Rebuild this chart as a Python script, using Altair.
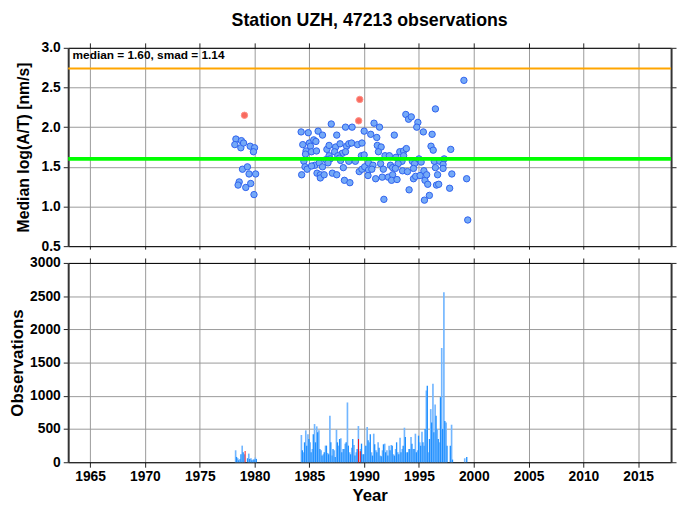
import altair as alt
import pandas as pd

title_text = "Station UZH, 47213 observations"
note_text = "median = 1.60, smad = 1.14"
median_val = 1.60
upper_val = 2.74

tick_years = [1965, 1970, 1975, 1980, 1985, 1990, 1995, 2000, 2005, 2010, 2015]
top_ticks = [0.5, 1.0, 1.5, 2.0, 2.5, 3.0]
bottom_ticks = [0, 500, 1000, 1500, 2000, 2500, 3000]

# blue station medians (year, value)
pt_year = [
    1978.3, 1978.2, 1978.75, 1978.8, 1979.0, 1979.6, 1980.0, 1979.9, 1978.9, 1979.35,
    1979.5, 1980.1, 1978.6, 1978.5, 1979.65, 1979.2, 1979.95,
    1984.25, 1984.9, 1985.8, 1986.2, 1987.0, 1987.5, 1988.3, 1988.9, 1990.0, 1984.4,
    1985.0, 1985.4, 1985.6, 1985.1, 1984.7, 1985.2, 1985.65, 1984.65, 1986.6, 1986.8,
    1987.4, 1987.8, 1988.4, 1988.6, 1988.85, 1989.4, 1989.8, 1987.3, 1988.0, 1988.3,
    1986.8, 1987.6, 1987.75, 1986.5, 1986.9, 1987.85, 1988.6, 1989.2, 1989.75, 1990.0,
    1984.5, 1984.6, 1984.8, 1985.5, 1985.9, 1986.2, 1986.7, 1985.2, 1984.3, 1985.7,
    1986.0, 1986.0, 1986.35, 1987.1, 1987.5, 1988.1, 1988.2, 1988.7, 1989.55, 1989.8,
    1990.05, 1990.4,
    1999.1, 1996.5, 1993.8, 1994.05, 1994.3, 1994.9, 1994.8, 1990.9, 1991.4, 1990.6,
    1991.15, 1992.75, 1995.4, 1996.2, 1991.2, 1991.55, 1991.3, 1993.25, 1993.6, 1993.85,
    1996.1, 1996.3, 1997.9, 1991.9, 1992.3, 1992.9, 1993.6, 1993.45, 1994.4, 1995.0,
    1995.2, 1994.6, 1996.4, 1996.9, 1997.3, 1997.2, 1990.4, 1990.8, 1991.5, 1992.4,
    1992.6, 1993.1, 1992.85, 1994.5, 1990.7, 1991.75, 1993.5, 1993.95, 1995.45, 1996.5,
    1997.2, 1998.0, 1996.7, 1990.35, 1991.65, 1991.05, 1992.2, 1992.6, 1992.5, 1993.0,
    1994.5, 1994.7, 1995.1, 1995.55, 1995.7, 1995.8, 1996.6, 1996.8, 1994.1, 1997.8,
    1999.35, 1991.8, 1995.5, 1995.95, 1999.45,
]
pt_val = [
    1.85, 1.78, 1.74, 1.83, 1.80, 1.76, 1.74, 1.69, 1.47, 1.50,
    1.41, 1.41, 1.31, 1.27, 1.29, 1.24, 1.15,
    1.94, 1.93, 1.95, 1.90, 2.04, 1.90, 2.00, 2.00, 1.95, 1.78,
    1.80, 1.84, 1.82, 1.76, 1.70, 1.69, 1.70, 1.66, 1.72, 1.77,
    1.75, 1.79, 1.76, 1.79, 1.80, 1.78, 1.80, 1.69, 1.67, 1.69,
    1.64, 1.64, 1.61, 1.59, 1.60, 1.58, 1.57, 1.57, 1.64, 1.65,
    1.57, 1.50, 1.47, 1.52, 1.55, 1.50, 1.55, 1.51, 1.40, 1.42,
    1.40, 1.36, 1.40, 1.42, 1.40, 1.49, 1.33, 1.30, 1.44, 1.47,
    1.50, 1.46,
    2.59, 2.23, 2.16, 2.10, 2.13, 2.06, 2.00, 2.05, 2.00, 1.91,
    1.87, 1.90, 1.94, 1.91, 1.77, 1.75, 1.69, 1.69, 1.70, 1.73,
    1.76, 1.71, 1.72, 1.64, 1.64, 1.62, 1.64, 1.57, 1.57, 1.60,
    1.56, 1.54, 1.57, 1.57, 1.60, 1.53, 1.55, 1.52, 1.54, 1.52,
    1.49, 1.54, 1.48, 1.48, 1.47, 1.47, 1.45, 1.44, 1.45, 1.49,
    1.48, 1.41, 1.40, 1.39, 1.37, 1.35, 1.37, 1.40, 1.33, 1.34,
    1.35, 1.38, 1.39, 1.33, 1.40, 1.28, 1.27, 1.28, 1.21, 1.23,
    1.35, 1.09, 1.08, 1.14, 0.83,
]
red_year = [1979.08, 1989.6, 1989.5]
red_val = [2.15, 2.35, 2.08]

# observation counts (bar start year, count)
light_year = [
    1978.2, 1978.4, 1978.6, 1978.8, 1979.0, 1979.4, 1979.6, 1979.8, 1980.0,
    1984.2, 1984.4, 1984.6, 1984.8, 1985.0, 1985.2, 1985.4, 1985.6, 1985.8, 1986.0,
    1986.2, 1986.4, 1986.6, 1986.8, 1987.0, 1987.2, 1987.4, 1987.6, 1987.8, 1988.0,
    1988.2, 1988.4, 1988.6, 1988.8, 1989.0, 1989.2, 1989.4, 1989.6, 1989.8, 1990.0,
    1990.2, 1990.4, 1990.6, 1990.8, 1991.0, 1991.2, 1991.4, 1991.6, 1991.8, 1992.0,
    1992.2, 1992.4, 1992.6, 1992.8, 1993.0, 1993.2, 1993.4, 1993.6, 1993.8, 1994.0,
    1994.2, 1994.4, 1994.6, 1994.8, 1995.0, 1995.2, 1995.4, 1995.6, 1995.8, 1996.0,
    1996.2, 1996.4, 1996.6, 1996.8, 1997.0, 1997.2, 1997.4, 1997.9, 1999.1,
]
light_count = [
    180, 60, 50, 250, 120, 130, 60, 40, 70,
    410, 150, 480, 420, 300, 200, 575, 540, 480, 180,
    120, 250, 140, 700, 100, 180, 490, 250, 360, 200,
    280, 900, 150, 220, 260, 150, 545, 200, 120, 250,
    530, 300, 150, 430, 180, 300, 100, 180, 280, 180,
    250, 260, 120, 200, 150, 370, 200, 520, 150, 200,
    380, 200, 430, 180, 300, 460, 250, 1080, 150, 800,
    1180, 870, 500, 300, 1720, 2560, 600, 565, 60,
]
dark_year = [
    1978.3, 1978.5, 1978.7, 1978.9, 1979.3, 1979.5, 1979.7, 1979.9, 1980.1,
    1984.3, 1984.5, 1984.7, 1984.9, 1985.1, 1985.3, 1985.5, 1985.7, 1985.9, 1986.1,
    1986.3, 1986.5, 1986.7, 1986.9, 1987.1, 1987.3, 1987.5, 1987.7, 1987.9, 1988.1,
    1988.3, 1988.5, 1988.7, 1988.9, 1989.1, 1989.3, 1989.7, 1989.9, 1990.1,
    1990.3, 1990.5, 1990.7, 1990.9, 1991.1, 1991.3, 1991.5, 1991.7, 1991.9, 1992.1,
    1992.3, 1992.5, 1992.7, 1992.9, 1993.1, 1993.3, 1993.5, 1993.7, 1993.9, 1994.1,
    1994.3, 1994.5, 1994.7, 1994.9, 1995.1, 1995.3, 1995.5, 1995.7, 1995.9, 1996.1,
    1996.3, 1996.5, 1996.7, 1996.9, 1997.1, 1997.3, 1997.5, 1997.8, 1998.0, 1999.3,
]
dark_count = [
    80, 30, 120, 150, 60, 50, 30, 40, 50,
    180, 300, 250, 350, 150, 420, 300, 450, 200, 100,
    150, 250, 120, 300, 200, 80, 300, 350, 150, 200,
    300, 250, 120, 350, 100, 200, 280, 120, 250,
    330, 420, 100, 270, 150, 220, 90, 270, 150, 100,
    180, 250, 100, 300, 120, 150, 250, 380, 150, 200,
    280, 200, 150, 400, 250, 300, 500, 1150, 350, 600,
    450, 700, 350, 980, 500, 620, 250, 250, 40, 80,
]
red_bar_year = [1979.1, 1989.45, 1989.6]
red_bar_count = [170, 350, 165]

FONT = "Liberation Sans"
XDOM = [1963, 2018]
W = 611

pts = pd.DataFrame({"year": pt_year, "val": pt_val})
reds = pd.DataFrame({"year": red_year, "val": red_val})
light = pd.DataFrame({"year": light_year, "count": light_count})
dark = pd.DataFrame({"year": dark_year, "count": dark_count})
redbars = pd.DataFrame({"year": red_bar_year, "count": red_bar_count})
one = pd.DataFrame({"k": [0]})

xscale = alt.Scale(domain=XDOM, nice=False, zero=False)
yscale_top = alt.Scale(domain=[0.5, 3.0], nice=False, zero=False)
yscale_bot = alt.Scale(domain=[0, 3000], nice=False)

fonts = dict(labelFont=FONT, labelFontSize=14, labelFontWeight="bold", labelColor="black",
             titleFont=FONT, titleFontWeight="bold", titleColor="black",
             labelPadding=3, gridColor="#999999", gridWidth=1, gridOpacity=1)
side = dict(domainColor="#333333", domainWidth=2, tickSize=5, tickColor="#222222", **fonts)
flat = dict(domainColor="black", domainWidth=1, tickColor="#222222", **fonts)

# ---------- top panel ----------
helper_top = alt.Chart(pts).mark_point(opacity=0).encode(
    x=alt.X("year:Q", scale=xscale,
            axis=alt.Axis(orient="top", values=tick_years, labels=False, grid=False, title=None,
                          tickSize=5, **flat)),
    y=alt.Y("val:Q", scale=yscale_top,
            axis=alt.Axis(orient="right", values=top_ticks, labels=False, grid=False, title=None, **side)),
)
orange = alt.Chart(one).mark_rule(color="#ffa500", strokeWidth=2).encode(
    y=alt.Y(datum=upper_val, axis=None, scale=yscale_top))
green = alt.Chart(one).mark_rule(color="#00ff00", strokeWidth=4).encode(
    y=alt.Y(datum=median_val, axis=None, scale=yscale_top))
blue_pts = alt.Chart(pts).mark_circle(size=42, color="#74a9f7", opacity=1,
                                      stroke="#2f62ee", strokeWidth=1).encode(
    x=alt.X("year:Q", scale=xscale,
            axis=alt.Axis(orient="bottom", values=tick_years, labels=False, grid=True, title=None,
                          tickSize=3, **flat)),
    y=alt.Y("val:Q", scale=yscale_top,
            axis=alt.Axis(orient="left", values=top_ticks, format=".1f", grid=True,
                          title="Median log(A/T) [nm/s]", titleFontSize=16, titlePadding=10, **side)),
)
red_pts = alt.Chart(reds).mark_circle(size=42, color="#f86a5e", opacity=1,
                                      stroke="#ff8f86", strokeWidth=1).encode(
    x=alt.X("year:Q", scale=xscale, axis=None),
    y=alt.Y("val:Q", scale=yscale_top, axis=None),
)
note = alt.Chart(one).mark_text(text=note_text, align="left", baseline="middle",
                                font=FONT, fontSize=12, fontWeight="bold", color="black").encode(
    x=alt.X(datum=1963.4, scale=xscale, axis=None),
    y=alt.Y(datum=2.915, scale=yscale_top, axis=None),
)
top = alt.layer(blue_pts, helper_top, orange, green, red_pts, note).resolve_axis(
    x="independent", y="independent"
).properties(
    width=W, height=201,
    title=alt.TitleParams(title_text, font=FONT, fontSize=18, fontWeight="bold",
                          anchor="middle", frame="group", offset=11, color="black"),
)

# ---------- bottom panel ----------
light_bars = alt.Chart(light).transform_calculate(end="datum.year + 0.15", zero="0").mark_bar(
    color="#72b6ff").encode(
    x=alt.X("year:Q", scale=xscale,
            axis=alt.Axis(orient="bottom", values=tick_years, format="d", grid=True,
                          title="Year", titleFontSize=17, titlePadding=4, tickSize=5, **flat)),
    x2="end:Q",
    y=alt.Y("count:Q", scale=yscale_bot, stack=None,
            axis=alt.Axis(orient="left", values=bottom_ticks, format="d", grid=True,
                          title="Observations", titleFontSize=17, titlePadding=3, **side)),
    y2="zero:Q",
)
helper_bot = alt.Chart(light).mark_point(opacity=0).encode(
    x=alt.X("year:Q", scale=xscale,
            axis=alt.Axis(orient="top", values=tick_years, labels=False, grid=False, title=None,
                          tickSize=5, **flat)),
    y=alt.Y("count:Q", scale=yscale_bot,
            axis=alt.Axis(orient="right", values=bottom_ticks, labels=False, grid=False, title=None, **side)),
)
dark_bars = alt.Chart(dark).transform_calculate(end="datum.year + 0.12", zero="0").mark_bar(
    color="#1e8fff").encode(
    x=alt.X("year:Q", scale=xscale, axis=None),
    x2="end:Q",
    y=alt.Y("count:Q", scale=yscale_bot, stack=None, axis=None),
    y2="zero:Q",
)
red_bars = alt.Chart(redbars).transform_calculate(end="datum.year + 0.08", zero="0").mark_bar(
    color="#ff0000").encode(
    x=alt.X("year:Q", scale=xscale, axis=None),
    x2="end:Q",
    y=alt.Y("count:Q", scale=yscale_bot, stack=None, axis=None),
    y2="zero:Q",
)
bottom = alt.layer(light_bars, helper_bot, dark_bars, red_bars).resolve_axis(
    x="independent", y="independent"
).properties(width=W, height=202)

chart = alt.vconcat(top, bottom, spacing=1).properties(
    padding={"left": 0, "right": 0, "top": 0, "bottom": 0}
).configure_view(stroke="black", strokeWidth=1).configure(background="white")

chart.save("out.html", embed_options={"renderer": "svg", "actions": False})
